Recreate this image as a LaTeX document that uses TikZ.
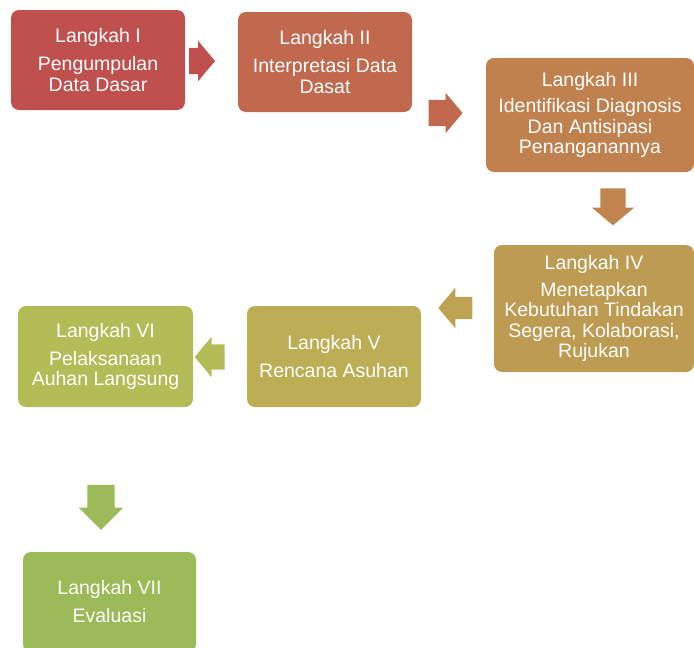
\documentclass[tikz,border=0pt]{standalone}
\usepackage{fontspec}
\setmainfont{Liberation Sans}
\usepackage{xcolor}
\usetikzlibrary{shapes.arrows}

\definecolor{warnaI}{HTML}{C0504D}
\definecolor{warnaII}{HTML}{C0694E}
\definecolor{warnaIII}{HTML}{C0814F}
\definecolor{warnaIV}{HTML}{BE9B52}
\definecolor{warnaV}{HTML}{BDAE55}
\definecolor{warnaVI}{HTML}{B3BC56}
\definecolor{warnaVII}{HTML}{9BBB59}

\begin{document}
\begin{tikzpicture}[x=1pt,y=-1pt,
    langkah/.style={rounded corners=8pt, inner sep=0pt, text=white, align=center,
        font=\fontsize{19.5}{20.5}\selectfont},
    panah/.style={single arrow, inner sep=0pt, text width=0pt, text depth=0pt,
        single arrow tip angle=100}]
        \clip (0,0) rectangle (694,648);

        %=== Kotak langkah ===
        \node[langkah, fill=warnaI, minimum width=174pt, minimum height=100pt] (l1) at (98,60)
            {Langkah I\\[7.5pt]Pengumpulan\\Data Dasar};
        \node[langkah, fill=warnaII, minimum width=174pt, minimum height=100pt] (l2) at (325,62)
            {Langkah II\\[7.5pt]Interpretasi Data\\Dasat};
        \node[langkah, fill=warnaIII, minimum width=208pt, minimum height=114pt] (l3) at (590,115)
            {Langkah III\\[6pt]Identifikasi Diagnosis\\Dan Antisipasi\\Penanganannya};
        \node[langkah, fill=warnaIV, minimum width=200pt, minimum height=127pt] (l4) at (594,308.5)
            {Langkah IV\\[6pt]Menetapkan\\Kebutuhan Tindakan\\Segera, Kolaborasi,\\Rujukan};
        \node[langkah, fill=warnaV, minimum width=174pt, minimum height=101pt] (l5) at (334,356.5)
            {Langkah V\\[7pt]Rencana Asuhan};
        \node[langkah, fill=warnaVI, minimum width=175pt, minimum height=101pt] (l6) at (105.5,356.5)
            {Langkah VI\\[7.5pt]Pelaksanaan\\Auhan Langsung};
        \node[langkah, fill=warnaVII, minimum width=173pt, minimum height=100pt] (l7) at (109.5,602)
            {Langkah VII\\[7.5pt]Evaluasi};

        %=== Panah blok ===
        \node[panah, fill=warnaI, minimum height=26pt, text height=26pt,
            single arrow head extend=7pt] (p1) at (196.5,61) {};
        \node[panah, fill=warnaII, minimum height=34pt, text height=26pt,
            single arrow head extend=7pt] (p2) at (440,113) {};
        \node[panah, fill=warnaIII!90!warnaIV, minimum height=37pt, text height=25pt,
            single arrow head extend=8.5pt, rotate=-90] (p3) at (613,201.5) {};
        \node[panah, fill=warnaIV!60!warnaV, minimum height=34pt, text height=22pt,
            single arrow head extend=9pt, rotate=180] (p4) at (460,308) {};
        \node[panah, fill=warnaVI, minimum height=30pt, text height=25pt,
            single arrow head extend=7.5pt, rotate=180] (p5) at (215,357) {};
        \node[panah, fill=warnaVII, minimum height=45pt, text height=27pt,
            single arrow head extend=8.5pt, rotate=-90, single arrow tip angle=90] (p6) at (101,500.5) {};
\end{tikzpicture}
\end{document}
